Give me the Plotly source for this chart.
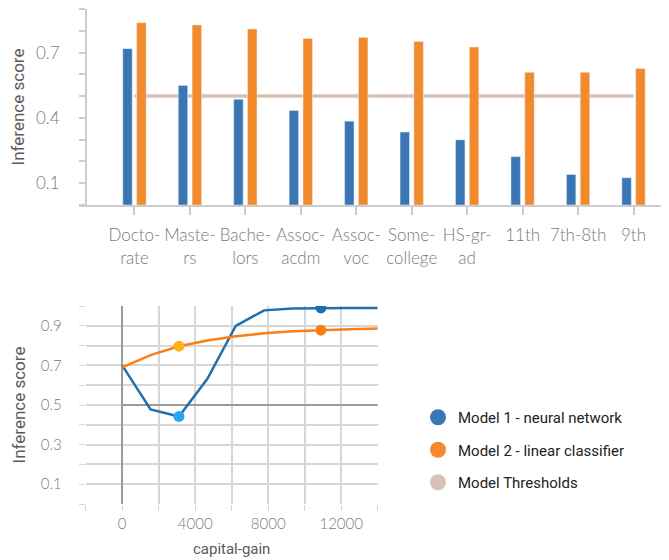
import plotly.graph_objects as go

# ---------------- data ----------------
categories = ["Doctorate", "Masters", "Bachelors", "Assoc-acdm", "Assoc-voc",
              "Some-college", "HS-grad", "11th", "7th-8th", "9th"]
category_labels = ["Docto-<br>rate", "Maste-<br>rs", "Bache-<br>lors", "Assoc-<br>acdm",
                   "Assoc-<br>voc", "Some-<br>college", "HS-gr-<br>ad", "11th", "7th-8th", "9th"]
model1_scores = [0.718, 0.549, 0.486, 0.434, 0.385, 0.335, 0.299, 0.222, 0.140, 0.125]
model2_scores = [0.837, 0.827, 0.808, 0.765, 0.769, 0.751, 0.725, 0.609, 0.609, 0.627]
threshold = 0.5

capital_gain = [0, 1556, 3111, 4667, 6222, 7778, 9333, 10889, 12444, 14000]
model1_curve = [0.700, 0.478, 0.442, 0.632, 0.900, 0.978, 0.987, 0.990, 0.990, 0.990]
model2_curve = [0.690, 0.752, 0.797, 0.826, 0.847, 0.862, 0.872, 0.878, 0.883, 0.886]
highlight_gain = [3111, 10889]
model1_highlight = [0.442, 0.990]
model2_highlight = [0.797, 0.878]

legend_names = ["Model 1 - neural network", "Model 2 - linear classifier", "Model Thresholds"]

# ---------------- style ----------------
OFF = 8                      # page body margin
W, H = 669 - OFF, 560 - OFF  # figure size inside the window


def fx(px):
    return (px - OFF) / W


def fy(py):
    return 1 - (py - OFF) / H


BLUE_BAR = "#3a76b3"
ORANGE_BAR = "#f28a2b"
TAN = "#d6c1b3"
BLUE_LINE = "#2070ae"
ORANGE_LINE = "#fb7f15"
GRID = "#d6d6d6"
AXIS = "#cccccc"
TICKFONT_TOP = dict(family="Lato", size=17, color="#7a7a7a", weight=300)
TICKFONT_BOT = dict(family="Lato", size=15, color="#7a7a7a", weight=300)
TITLEFONT = dict(family="Roboto", size=17, color="#5a5a5a")

fig = go.Figure()

# top chart bars
fig.add_trace(go.Bar(x=categories, y=model1_scores, marker_color=BLUE_BAR,
                     width=0.17, offset=-0.21, showlegend=False,
                     xaxis="x", yaxis="y", name=legend_names[0]))
fig.add_trace(go.Bar(x=categories, y=model2_scores, marker_color=ORANGE_BAR,
                     width=0.17, offset=0.04, showlegend=False,
                     xaxis="x", yaxis="y", name=legend_names[1]))

# threshold line under bars
fig.add_shape(type="line", xref="x", yref="y", x0=categories[0], x1=categories[-1],
              y0=threshold, y1=threshold, line=dict(color=TAN, width=3.5), layer="below")

# bottom chart threshold
fig.add_trace(go.Scatter(x=[capital_gain[0], capital_gain[-1]], y=[threshold, threshold],
                         mode="lines", line=dict(color="#9a9a9a", width=2),
                         showlegend=False, xaxis="x2", yaxis="y2", hoverinfo="skip"))
# bottom curves
fig.add_trace(go.Scatter(x=capital_gain, y=model1_curve, mode="lines",
                         line=dict(color=BLUE_LINE, width=2.5), showlegend=False,
                         xaxis="x2", yaxis="y2", name=legend_names[0]))
fig.add_trace(go.Scatter(x=capital_gain, y=model2_curve, mode="lines",
                         line=dict(color=ORANGE_LINE, width=2.5), showlegend=False,
                         xaxis="x2", yaxis="y2", name=legend_names[1]))
fig.add_trace(go.Scatter(x=highlight_gain, y=model1_highlight, mode="markers",
                         marker=dict(size=11, color=["#2aa4f2", "#1f6fae"]),
                         showlegend=False, xaxis="x2", yaxis="y2"))
fig.add_trace(go.Scatter(x=highlight_gain, y=model2_highlight, mode="markers",
                         marker=dict(size=11, color=["#fdb21c", "#f97d17"]),
                         showlegend=False, xaxis="x2", yaxis="y2"))

# legend entries
for i, (nm, col) in enumerate(zip(legend_names, ["#3a76b6", "#f5892d", "#d8c2b5"])):
    fig.add_trace(go.Scatter(x=[None], y=[None], mode="markers", name=nm,
                             marker=dict(size=16, color=col), legendgroup="g%d" % i,
                             xaxis="x2", yaxis="y2"))

fig.update_layout(
    width=W, height=H,
    margin=dict(l=0, r=0, t=0, b=0),
    paper_bgcolor="white", plot_bgcolor="white",
    barmode="overlay",
    xaxis=dict(domain=[fx(79), 1], type="category", range=[-1, 9.64],
               tickvals=categories, ticktext=category_labels,
               showline=True, linecolor=AXIS, linewidth=2,
               ticks="outside", ticklen=8, tickcolor=AXIS, tickwidth=2,
               showgrid=False, zeroline=False, tickfont=TICKFONT_TOP,
               ticklabelstandoff=6, anchor="y"),
    yaxis=dict(domain=[fy(205), fy(9)], range=[0, 0.9],
               tick0=0.1, dtick=0.3, ticks="outside", ticklen=6, tickcolor=AXIS, tickwidth=2,
               minor=dict(dtick=0.1, tick0=0, ticks="outside", ticklen=6, tickcolor=AXIS,
                          showgrid=False),
               showline=True, linecolor=AXIS, linewidth=2, showgrid=False, zeroline=False,
               tickfont=TICKFONT_TOP, ticklabelstandoff=16,
               anchor="free", position=fx(86),
               title=dict(text="Inference score", font=TITLEFONT, standoff=6)),
    xaxis2=dict(domain=[fx(85.7), fx(377.7)], range=[-2000, 14000],
                tick0=0, dtick=4000, tickformat="d", ticks="outside", ticklen=6, tickcolor=GRID,
                showgrid=True, gridcolor=GRID, gridwidth=1.5,
                minor=dict(dtick=2000, tick0=0, ticks="outside", ticklen=6, tickcolor=GRID,
                           showgrid=True, gridcolor=GRID, gridwidth=1.5),
                zeroline=True, zerolinecolor="#9a9a9a", zerolinewidth=2,
                showline=False, tickfont=TICKFONT_BOT, anchor="y2",
                title=dict(text="capital-gain", font=dict(family="Roboto", size=15, color="#5a5a5a"),
                           standoff=12)),
    yaxis2=dict(domain=[fy(504), fy(306)], range=[0, 1.0],
                tick0=0.1, dtick=0.2, ticks="outside", ticklen=6, tickcolor=GRID,
                showgrid=True, gridcolor=GRID, gridwidth=1.5,
                minor=dict(dtick=0.1, tick0=0, ticks="outside", ticklen=6, tickcolor=GRID,
                           showgrid=True, gridcolor=GRID, gridwidth=1.5),
                zeroline=False, showline=False, tickfont=TICKFONT_BOT,
                ticklabelstandoff=14, anchor="x2",
                title=dict(text="Inference score", font=TITLEFONT, standoff=10)),
    legend=dict(x=fx(418), y=fy(401), xanchor="left", yanchor="top",
                font=dict(family="Roboto", size=15, color="#222222"),
                tracegroupgap=10, bgcolor="rgba(0,0,0,0)"),
)

fig.write_html("out.html")
